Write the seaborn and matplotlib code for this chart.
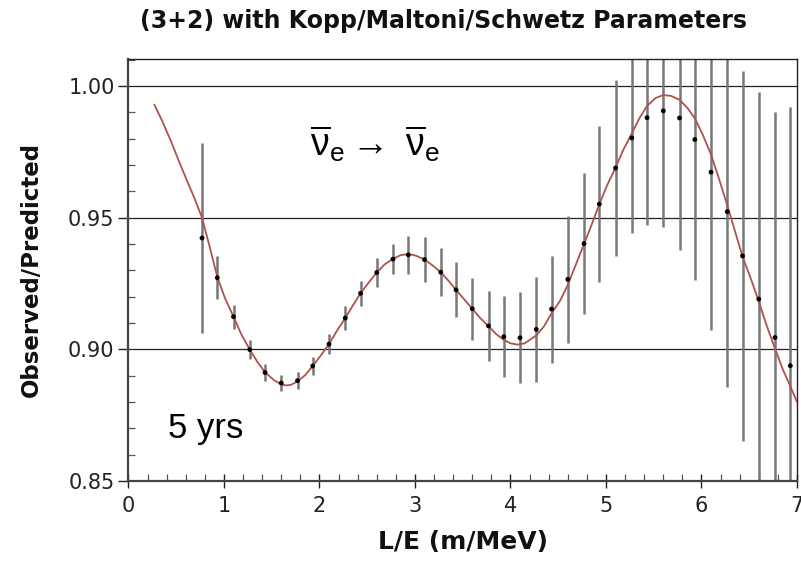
import matplotlib
matplotlib.use("Agg")
import matplotlib.pyplot as plt
import seaborn as sns
import pandas as pd
from matplotlib.ticker import MultipleLocator, FormatStrFormatter

# ---- data ----
le_points = [0.77, 0.93, 1.10, 1.27, 1.43, 1.60, 1.77, 1.93, 2.10, 2.27, 2.43, 2.60,
             2.77, 2.93, 3.10, 3.27, 3.43, 3.60, 3.77, 3.93, 4.10, 4.27, 4.43, 4.60,
             4.77, 4.93, 5.10, 5.27, 5.43, 5.60, 5.77, 5.93, 6.10, 6.27, 6.43, 6.60,
             6.77, 6.93]
ratio_points = [0.9423, 0.9272, 0.9124, 0.8999, 0.8912, 0.8872, 0.8881, 0.8937, 0.9020,
                0.9119, 0.9213, 0.9292, 0.9343, 0.9359, 0.9341, 0.9293, 0.9226, 0.9154,
                0.9089, 0.9048, 0.9044, 0.9076, 0.9153, 0.9266, 0.9402, 0.9552, 0.9689,
                0.9803, 0.9880, 0.9906, 0.9879, 0.9797, 0.9673, 0.9523, 0.9355, 0.9191,
                0.9045, 0.8938]
ratio_err = [0.036, 0.0082, 0.0046, 0.0037, 0.0032, 0.0032, 0.0032, 0.0034, 0.0038,
             0.0044, 0.0047, 0.0054, 0.0058, 0.0072, 0.0084, 0.0092, 0.0104, 0.0117,
             0.0134, 0.0154, 0.0172, 0.0199, 0.0203, 0.0240, 0.0267, 0.0297, 0.0334,
             0.0361, 0.0409, 0.0441, 0.0500, 0.0535, 0.0601, 0.0665, 0.0702, 0.0788,
             0.0858, 0.0982]

curve_le = [0.27, 0.35, 0.44, 0.52, 0.61, 0.69, 0.77, 0.85, 0.93, 1.01, 1.10, 1.18, 1.27,
            1.35, 1.43, 1.52, 1.60, 1.65, 1.70, 1.77, 1.85, 1.93, 2.01, 2.10, 2.18, 2.27,
            2.35, 2.43, 2.52, 2.60, 2.68, 2.77, 2.85, 2.93, 3.01, 3.10, 3.18, 3.27, 3.35,
            3.43, 3.52, 3.60, 3.68, 3.77, 3.85, 3.93, 4.00, 4.07, 4.15, 4.27, 4.35, 4.43,
            4.52, 4.60, 4.68, 4.77, 4.85, 4.93, 5.01, 5.10, 5.18, 5.27, 5.35, 5.43, 5.52,
            5.60, 5.68, 5.77, 5.85, 5.93, 6.01, 6.10, 6.18, 6.27, 6.35, 6.43, 6.52, 6.60,
            6.68, 6.77, 6.85, 6.93, 7.00]
curve_ratio = [0.9930, 0.9870, 0.9795, 0.9722, 0.9643, 0.9575, 0.9500, 0.9390, 0.9275,
               0.9195, 0.9124, 0.9058, 0.8999, 0.8952, 0.8913, 0.8884, 0.8867, 0.8863,
               0.8865, 0.8878, 0.8902, 0.8937, 0.8975, 0.9020, 0.9069, 0.9119, 0.9167,
               0.9213, 0.9256, 0.9292, 0.9322, 0.9344, 0.9358, 0.9362, 0.9356, 0.9341,
               0.9320, 0.9293, 0.9261, 0.9226, 0.9188, 0.9154, 0.9120, 0.9088, 0.9058,
               0.9036, 0.9023, 0.9018, 0.9023, 0.9053, 0.9087, 0.9137, 0.9185, 0.9245,
               0.9318, 0.9400, 0.9474, 0.9551, 0.9622, 0.9690, 0.9757, 0.9820, 0.9878,
               0.9925, 0.9955, 0.9966, 0.9963, 0.9948, 0.9918, 0.9878, 0.9818, 0.9740,
               0.9652, 0.9547, 0.9450, 0.9352, 0.9265, 0.9182, 0.9093, 0.9003, 0.8925,
               0.8860, 0.8800]

x_ticks = [0, 1, 2, 3, 4, 5, 6, 7]
y_ticks = [0.85, 0.90, 0.95, 1.00]

title_text = "(3+2) with Kopp/Maltoni/Schwetz Parameters"
x_label = "L/E (m/MeV)"
y_label = "Observed/Predicted"
channel_text = r"$\overline{\nu}_\mathregular{e} \rightarrow\ \overline{\nu}_\mathregular{e}$"
years_text = "5 yrs"

points_df = pd.DataFrame({"le": le_points, "ratio": ratio_points, "err": ratio_err})
curve_df = pd.DataFrame({"le": curve_le, "ratio": curve_ratio})

# ---- style ----
sns.set_style("ticks")
plt.rcParams["font.family"] = ["DejaVu Sans"]
plt.rcParams["mathtext.fontset"] = "custom"
plt.rcParams["mathtext.rm"] = "Liberation Sans"
plt.rcParams["mathtext.it"] = "Liberation Sans"
plt.rcParams["mathtext.sf"] = "Liberation Sans"

fig = plt.figure(figsize=(8.01, 5.69), dpi=100)
ax = fig.add_axes([0.1604, 0.1547, 0.8346, 0.7416])

# grid lines at major y ticks
for yv in y_ticks[1:]:
    ax.axhline(yv, color="#222222", lw=0.9, zorder=1)

# error bars
ax.errorbar(points_df["le"], points_df["ratio"], yerr=points_df["err"], fmt="none",
            ecolor="#777777", elinewidth=1.8, capsize=0, zorder=2)

# theory curve
sns.lineplot(data=curve_df, x="le", y="ratio", ax=ax, color="#b0524c", lw=1.3,
             zorder=3, sort=False, estimator=None)

# data points
sns.scatterplot(data=points_df, x="le", y="ratio", ax=ax, color="black", s=12,
                edgecolor="none", zorder=4)

ax.set_xlim(0, 7)
ax.set_ylim(0.85, 1.0103)
ax.set_xticks(x_ticks)
ax.set_yticks(y_ticks)
ax.yaxis.set_major_formatter(FormatStrFormatter("%.2f"))
ax.xaxis.set_minor_locator(MultipleLocator(0.2))
ax.yaxis.set_minor_locator(MultipleLocator(0.01))

ax.tick_params(axis="y", which="major", direction="out", length=7, width=1,
               labelsize=15, colors="#222222", pad=3)
ax.tick_params(axis="y", which="minor", direction="in", length=5, width=0.9, colors="#555555")
ax.tick_params(axis="x", which="major", direction="inout", length=10, width=1,
               labelsize=15, colors="#222222", pad=6)
ax.tick_params(axis="x", which="minor", direction="in", length=5, width=0.9, colors="#555555")

for side in ["top", "right"]:
    ax.spines[side].set_visible(True)
    ax.spines[side].set_color("#222222")
    ax.spines[side].set_linewidth(1.0)
for side in ["left", "bottom"]:
    ax.spines[side].set_color("#444444")
    ax.spines[side].set_linewidth(1.6)

ax.set_xlabel(x_label, fontsize=18, fontweight="bold", labelpad=10, color="#111111")
ax.set_ylabel(y_label, fontsize=16.5, fontweight="bold", labelpad=18, color="#111111")

fig.text(444 / 801, 1 - 21 / 569, title_text, ha="center", va="center",
         fontsize=17, fontweight="bold", color="#111111")

ax.text(1.90, 0.978, channel_text, fontsize=27, ha="left", va="center",
        family="Liberation Sans", color="black")
ax.text(0.41, 0.870, years_text, fontsize=25, ha="left", va="center",
        family="Liberation Sans", color="black")

fig.savefig("out.png", dpi=100)
